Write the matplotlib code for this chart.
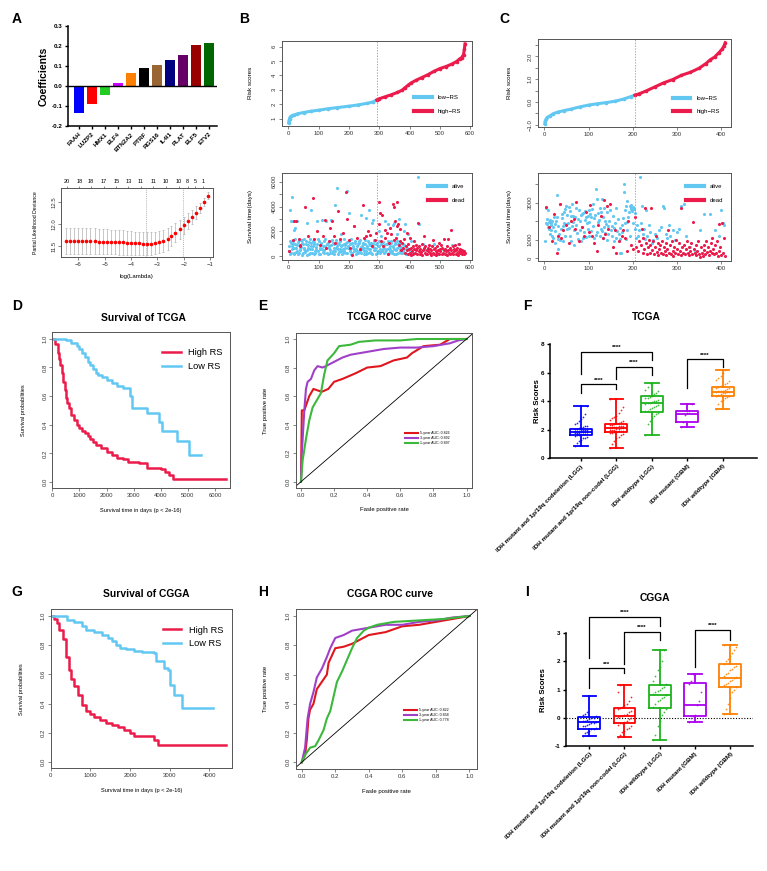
import matplotlib
matplotlib.use("Agg")
import matplotlib.pyplot as plt

plt.rcParams["font.family"] = ["Liberation Sans", "DejaVu Sans"]

# ---------------- data ----------------
genes = ["FAAH", "LUZP2", "HMX1", "ELF4", "BTN2A2", "PTRF", "RGS16", "IL4I1", "PLAT", "ELF5", "ETV2"]
coefs = [-0.137, -0.090, -0.045, 0.013, 0.063, 0.091, 0.107, 0.130, 0.157, 0.203, 0.215]
gene_colors = ["#0000FF", "#FF0000", "#22CC22", "#CC00FF", "#FF8000", "#000000",
               "#996633", "#000080", "#660066", "#990000", "#006600"]

log_lambda = [-6.46, -6.30, -6.15, -6.00, -5.84, -5.69, -5.54, -5.38, -5.23, -5.08, -4.92, -4.77,
              -4.62, -4.46, -4.31, -4.16, -4.00, -3.85, -3.70, -3.54, -3.39, -3.24, -3.08, -2.93,
              -2.78, -2.62, -2.47, -2.32, -2.16, -2.01, -1.86, -1.70, -1.55, -1.40, -1.24, -1.09]
deviance = [11.62, 11.62, 11.62, 11.62, 11.62, 11.61, 11.61, 11.61, 11.60, 11.60, 11.60, 11.59,
            11.59, 11.58, 11.58, 11.57, 11.57, 11.56, 11.56, 11.55, 11.55, 11.55, 11.57, 11.59,
            11.62, 11.66, 11.72, 11.80, 11.88, 11.97, 12.07, 12.16, 12.26, 12.37, 12.50, 12.64]
deviance_sd = [0.30, 0.30, 0.30, 0.30, 0.30, 0.30, 0.29, 0.29, 0.29, 0.29, 0.29, 0.28,
               0.28, 0.28, 0.28, 0.27, 0.27, 0.27, 0.27, 0.26, 0.26, 0.26, 0.26, 0.25,
               0.25, 0.24, 0.23, 0.22, 0.21, 0.20, 0.18, 0.16, 0.14, 0.12, 0.10, 0.08]
lambda_min, lambda_1se = -3.44, -2.05
nz_pos = [-6.43, -5.96, -5.52, -5.03, -4.56, -4.10, -3.64, -3.16, -2.68, -2.20, -1.86, -1.57, -1.27]
nz_count = ["20", "18", "18", "17", "15", "13", "11", "11", "10", "10", "8", "5", "1"]

# TCGA / CGGA risk score (sorted) and cut point
b_rank = [1, 2, 4, 6, 10, 15, 20, 30, 50, 75, 100, 130, 160, 200, 230, 260, 280, 292,
          300, 320, 340, 360, 375, 385, 395, 405, 420, 440, 460, 480, 500, 520, 540, 555, 565, 572, 578, 581, 583]
b_score = [0.70, 0.85, 1.00, 1.10, 1.18, 1.22, 1.25, 1.33, 1.42, 1.51, 1.58, 1.68, 1.76, 1.86, 1.95, 2.06, 2.16, 2.30,
           2.38, 2.52, 2.66, 2.82, 2.97, 3.15, 3.32, 3.48, 3.65, 3.85, 4.05, 4.28, 4.48, 4.62, 4.80, 4.97, 5.15, 5.25, 5.45, 5.85, 6.20]
b_cut = 292

c_rank = [1, 2, 4, 7, 12, 20, 30, 45, 60, 80, 100, 120, 140, 160, 180, 195, 205,
          215, 230, 250, 270, 290, 310, 330, 350, 365, 375, 385, 395, 402, 406, 409]
c_score = [-0.95, -0.85, -0.75, -0.68, -0.62, -0.52, -0.45, -0.38, -0.32, -0.22, -0.14, -0.08, -0.03, 0.03, 0.13, 0.23, 0.30,
           0.36, 0.48, 0.66, 0.84, 0.98, 1.17, 1.30, 1.48, 1.68, 1.85, 1.97, 2.17, 2.32, 2.45, 2.60]
c_cut = 205

# (rank, survival days)
b_alive = [
    (3, 450), (5, 3750), (6, 1200), (8, 2850), (9, 300), (11, 800), (12, 4750), (14, 1250), (15, 2800), (17, 200),
    (18, 2100), (20, 650), (22, 2300), (23, 1000), (26, 350), (27, 2850), (29, 900), (32, 150), (35, 1300), (38, 500),
    (41, 750), (44, 1100), (45, 1300), (47, 250), (50, 600), (53, 1400), (56, 400), (59, 950), (60, 2700), (62, 100),
    (65, 700), (68, 1150), (71, 300), (74, 850), (75, 3700), (77, 550), (80, 1250), (83, 200), (86, 1000), (89, 450),
    (92, 750), (95, 2850), (98, 1350), (101, 150), (104, 600), (107, 900), (110, 2900), (113, 350), (116, 1200), (119, 500),
    (122, 800), (125, 2850), (128, 250), (131, 1050), (134, 650), (137, 300), (140, 2900), (143, 1300), (146, 450), (149, 950),
    (152, 200), (155, 4100), (158, 700), (161, 1100), (162, 5500), (164, 550), (167, 350), (170, 1250), (173, 800), (175, 1800),
    (176, 150), (179, 600), (182, 1000), (185, 400), (188, 900), (191, 250), (194, 1150), (195, 5250), (197, 700), (200, 3500),
    (203, 500), (206, 1350), (209, 300), (212, 850), (215, 2400), (218, 600), (221, 1050), (224, 200), (227, 450), (230, 950),
    (233, 1200), (236, 350), (239, 750), (240, 3300), (242, 550), (245, 1000), (248, 150), (251, 650), (254, 1300), (255, 3100),
    (257, 400), (260, 850), (263, 250), (265, 3700), (266, 1100), (269, 600), (272, 300), (275, 2700), (278, 950), (280, 2900),
    (281, 500), (284, 1200), (287, 700), (290, 200), (293, 1050), (296, 450), (299, 800), (300, 2000), (302, 350), (305, 1600),
    (308, 1150), (311, 600), (314, 250), (317, 900), (320, 2800), (323, 500), (326, 1000), (329, 150), (330, 2600), (332, 700),
    (335, 400), (338, 1250), (341, 300), (344, 850), (345, 2500), (347, 550), (350, 2700), (353, 1100), (356, 200), (359, 650),
    (360, 1800), (362, 950), (365, 3000), (368, 450), (371, 750), (374, 300), (377, 1000), (380, 2000), (383, 550), (385, 2600),
    (388, 200), (392, 700), (395, 1800), (400, 400), (405, 1200), (412, 250), (420, 600), (428, 6400), (430, 2600), (436, 150),
    (445, 1000), (452, 500), (466, 300), (480, 1000), (495, 200), (510, 600), (525, 350), (540, 900), (555, 150), (560, 1000),
    (575, 400), (2, 800), (7, 150), (10, 1100), (13, 600), (16, 950), (19, 300), (21, 1400), (24, 700), (28, 400),
    (31, 1150), (34, 250), (37, 850), (40, 550), (43, 1300), (46, 100), (49, 1000), (52, 700), (55, 350), (58, 1200),
    (61, 500), (64, 900), (67, 200), (70, 1350), (73, 600), (76, 1050), (79, 300), (82, 800), (85, 1150), (88, 250),
    (91, 600), (94, 1000), (97, 450), (100, 1250), (103, 700), (106, 200), (109, 1100), (112, 550), (115, 850), (118, 300),
    (121, 1350), (124, 650), (127, 1000), (130, 150), (133, 800), (136, 1200), (139, 500), (142, 900), (145, 250), (148, 1100),
    (151, 650), (154, 400), (157, 1300), (160, 800), (163, 200), (166, 1000), (169, 550), (172, 1200), (175, 400), (178, 900),
    (181, 250), (184, 1350), (187, 650), (190, 1050), (193, 300), (196, 800), (199, 1200), (202, 450), (205, 950), (208, 150),
    (211, 1100), (214, 700), (217, 400), (220, 1250), (223, 600), (226, 850), (229, 250), (232, 1050), (235, 500), (238, 1300),
    (241, 300), (244, 800), (247, 1100), (250, 450), (253, 950), (256, 200), (259, 650), (262, 1200), (265, 550), (268, 900),
    (271, 350), (274, 1050), (277, 150), (280, 750), (283, 1300), (286, 500), (289, 1000), (292, 300), (295, 850), (298, 1200),
    (301, 600), (304, 250), (307, 950), (310, 450), (313, 1150), (316, 700), (319, 350), (322, 1000), (325, 600), (328, 1250),
    (331, 250), (334, 850), (337, 550), (340, 1100), (343, 400), (346, 750), (349, 200), (352, 950), (355, 500), (358, 1200),
    (361, 300), (364, 800), (367, 600), (370, 1100), (373, 250), (376, 700), (379, 450), (382, 900), (386, 300), (390, 600),
]
b_dead = [
    (2, 450), (15, 1300), (20, 2800), (25, 2850), (35, 1400), (38, 800), (40, 900), (55, 4000), (65, 1600), (80, 4700),
    (85, 1400), (95, 2000), (105, 900), (115, 1600), (120, 2900), (125, 700), (135, 1200), (138, 2300), (145, 2800), (150, 1600),
    (155, 1100), (165, 3600), (170, 1400), (180, 1900), (190, 5150), (192, 3000), (200, 1300), (205, 700), (210, 100), (215, 2400),
    (225, 1500), (235, 600), (245, 4100), (250, 1500), (255, 1600), (262, 2000), (270, 1700), (275, 800), (285, 1300), (290, 1900),
    (298, 4400), (300, 2600), (302, 3500), (305, 1200), (310, 3300), (313, 800), (318, 2100), (320, 1500), (325, 1900), (328, 200),
    (332, 1100), (336, 2300), (340, 1800), (345, 4200), (348, 1300), (350, 4000), (353, 2800), (356, 1500), (358, 4400), (360, 2400),
    (362, 2600), (365, 900), (368, 1200), (370, 2200), (372, 500), (375, 1100), (378, 700), (382, 1400), (385, 300), (388, 800),
    (390, 500), (392, 1900), (394, 200), (396, 1000), (398, 600), (400, 300), (402, 1500), (404, 700), (406, 100), (408, 400),
    (410, 800), (412, 200), (414, 600), (416, 1200), (418, 300), (420, 900), (422, 500), (424, 150), (426, 700), (428, 2700),
    (430, 400), (432, 800), (434, 200), (436, 600), (438, 350), (440, 1000), (442, 100), (444, 500), (446, 700), (448, 1600),
    (450, 300), (452, 800), (454, 200), (456, 500), (458, 150), (460, 700), (462, 400), (464, 900), (466, 250), (468, 600),
    (470, 100), (472, 500), (474, 800), (476, 300), (478, 1300), (480, 600), (482, 200), (484, 700), (486, 400), (488, 100),
    (490, 800), (492, 300), (494, 500), (496, 1100), (498, 200), (500, 600), (502, 400), (504, 900), (506, 150), (508, 700),
    (510, 300), (512, 500), (514, 1400), (516, 200), (518, 600), (520, 400), (522, 800), (524, 100), (526, 1400), (528, 500),
    (530, 300), (532, 700), (534, 200), (536, 2100), (538, 500), (540, 300), (542, 800), (544, 150), (546, 600), (548, 400),
    (550, 900), (552, 200), (554, 500), (556, 300), (558, 700), (560, 100), (562, 400), (564, 1000), (566, 250), (568, 600),
    (570, 350), (572, 150), (574, 500), (576, 300), (578, 400), (580, 200), (582, 300),
]
c_alive = [
    (1, 950), (3, 1900), (4, 2700), (5, 1850), (7, 2100), (8, 2600), (9, 1700), (10, 1600), (11, 1950), (12, 2050),
    (13, 1300), (14, 1800), (15, 1500), (16, 1900), (17, 2000), (18, 1200), (19, 1100), (20, 1700), (22, 2200), (23, 1850),
    (24, 1450), (25, 800), (26, 2000), (28, 2250), (29, 3400), (30, 1050), (31, 1750), (32, 500), (33, 1300), (35, 2900),
    (36, 1000), (38, 1600), (39, 2400), (40, 2150), (42, 1750), (43, 900), (44, 1900), (45, 2500), (46, 1200), (47, 2650),
    (48, 1850), (50, 2800), (51, 1550), (52, 2350), (53, 1900), (55, 1650), (56, 2750), (57, 1200), (58, 2550), (60, 2300),
    (61, 950), (62, 1750), (63, 2950), (64, 1950), (65, 2300), (67, 1500), (68, 700), (70, 2250), (71, 1800), (72, 2700),
    (73, 1350), (75, 2100), (76, 1050), (78, 2600), (80, 2000), (81, 1500), (82, 2350), (84, 900), (85, 1700), (86, 2400),
    (87, 2450), (88, 1100), (90, 1400), (91, 2050), (93, 2550), (94, 2200), (95, 1150), (96, 1900), (98, 2300), (99, 1600),
    (100, 2600), (101, 1200), (102, 1950), (104, 2400), (105, 2250), (106, 1450), (108, 2650), (110, 2900), (111, 1750), (112, 1100),
    (113, 2150), (115, 2350), (116, 1250), (117, 3750), (118, 1400), (120, 3200), (121, 2450), (122, 1950), (124, 2050), (125, 1200),
    (126, 2700), (127, 1600), (128, 2500), (130, 3200), (131, 1450), (132, 2250), (133, 1100), (135, 1700), (136, 2700), (137, 2000),
    (138, 1350), (140, 1850), (141, 2500), (142, 1000), (143, 1750), (145, 1300), (146, 2000), (148, 2600), (150, 1500), (152, 1750),
    (153, 1200), (155, 2300), (157, 1650), (158, 900), (160, 1900), (162, 1100), (163, 2700), (165, 1450), (166, 2100), (168, 1300),
    (170, 1650), (171, 1050), (172, 300), (173, 250), (175, 1800), (176, 1400), (178, 2150), (179, 4000), (180, 3600), (182, 1900),
    (183, 2600), (184, 1050), (185, 2800), (186, 3100), (187, 1500), (188, 1950), (190, 2250), (192, 2500), (193, 1200), (194, 2800),
    (195, 2650), (196, 2700), (197, 2850), (198, 2550), (199, 2700), (200, 2750), (201, 1900), (202, 2650), (204, 2450), (205, 1600),
    (208, 1100), (210, 1800), (212, 1200), (214, 1500), (216, 4400), (218, 1900), (220, 2800), (222, 1300), (225, 1600), (228, 1050),
    (230, 2600), (233, 1200), (236, 1800), (240, 1400), (243, 800), (246, 1000), (250, 1300), (255, 1100), (260, 1500), (264, 1700),
    (268, 2800), (270, 2700), (274, 1300), (278, 1100), (282, 1800), (285, 1200), (290, 1500), (295, 1000), (300, 1400), (305, 1600),
    (310, 2800), (315, 2900), (320, 1200), (330, 600), (340, 400), (352, 1500), (362, 2400), (375, 2400), (385, 1500), (395, 1200),
    (400, 2600), (403, 1900), (406, 1800),
]
c_dead = [
    (3, 2750), (10, 1700), (18, 900), (22, 2400), (28, 300), (30, 1200), (35, 2950), (38, 1100), (42, 1500), (48, 1800),
    (55, 800), (60, 2000), (66, 2100), (70, 1600), (72, 3050), (78, 900), (85, 1700), (90, 1200), (95, 2500), (100, 1400),
    (103, 2850), (108, 1200), (112, 800), (118, 400), (122, 1800), (128, 2300), (132, 1100), (135, 3150), (138, 1300), (142, 2800),
    (145, 1600), (148, 2900), (155, 600), (160, 1500), (163, 300), (168, 900), (175, 1200), (178, 1500), (182, 1100), (188, 400),
    (190, 2000), (195, 700), (200, 500), (205, 2200), (208, 600), (212, 400), (215, 900), (218, 700), (220, 1600), (222, 300),
    (224, 1100), (226, 500), (228, 2700), (230, 800), (232, 200), (234, 600), (236, 1000), (238, 300), (240, 700), (242, 2700),
    (244, 450), (246, 900), (248, 200), (250, 600), (252, 1200), (254, 350), (256, 800), (258, 150), (260, 500), (262, 700),
    (264, 300), (266, 900), (268, 200), (270, 600), (272, 400), (274, 800), (276, 150), (278, 500), (280, 1500), (282, 300),
    (284, 700), (286, 200), (288, 900), (290, 400), (292, 100), (294, 600), (296, 300), (298, 1000), (300, 500), (302, 200),
    (304, 800), (306, 400), (308, 150), (310, 2700), (312, 600), (314, 300), (316, 700), (318, 200), (320, 500), (322, 900),
    (324, 300), (326, 150), (328, 600), (330, 400), (332, 800), (334, 200), (336, 1950), (338, 500), (340, 300), (342, 700),
    (344, 150), (346, 400), (348, 900), (350, 200), (352, 50), (354, 600), (356, 300), (358, 100), (360, 700), (362, 450),
    (364, 200), (366, 900), (368, 350), (370, 600), (372, 150), (374, 400), (376, 800), (378, 250), (380, 1100), (382, 500),
    (384, 200), (386, 700), (388, 300), (390, 900), (392, 100), (394, 1850), (396, 400), (398, 600), (400, 150), (402, 1900),
    (404, 300), (406, 1100), (408, 100),
]

# Kaplan-Meier curves
d_high_t = [0, 100, 200, 250, 300, 350, 400, 450, 500, 550, 600, 700, 800, 900, 1000, 1100, 1200, 1300, 1400, 1500,
            1600, 1800, 2000, 2200, 2400, 2600, 2800, 3200, 3500, 4000, 4150, 4300, 4450, 6420]
d_high_s = [1.0, 0.96, 0.90, 0.86, 0.82, 0.76, 0.70, 0.64, 0.59, 0.55, 0.52, 0.47, 0.43, 0.40, 0.38, 0.36, 0.34, 0.32, 0.30, 0.28,
            0.26, 0.24, 0.21, 0.19, 0.17, 0.16, 0.14, 0.13, 0.10, 0.09, 0.07, 0.05, 0.02, 0.02]
d_low_t = [0, 300, 500, 700, 900, 1000, 1100, 1200, 1300, 1400, 1500, 1600, 1700, 1850, 2000, 2200, 2400, 2600,
           2850, 2950, 3500, 3950, 4050, 4600, 5050, 5480]
d_low_s = [1.0, 1.0, 0.99, 0.97, 0.95, 0.93, 0.90, 0.87, 0.84, 0.82, 0.79, 0.76, 0.75, 0.73, 0.71, 0.69, 0.67, 0.66,
           0.60, 0.52, 0.48, 0.42, 0.36, 0.29, 0.19, 0.19]
g_high_t = [0, 80, 150, 220, 300, 380, 450, 520, 600, 700, 800, 900, 1000, 1100, 1250, 1400, 1550, 1700, 1850, 2000,
            2100, 2500, 2600, 2700, 4420]
g_high_s = [1.0, 0.98, 0.95, 0.90, 0.84, 0.72, 0.63, 0.57, 0.52, 0.46, 0.39, 0.35, 0.33, 0.31, 0.29, 0.27, 0.25, 0.24, 0.22, 0.20,
            0.175, 0.175, 0.15, 0.115, 0.115]
g_low_t = [0, 200, 400, 600, 800, 900, 1100, 1300, 1450, 1550, 1650, 1750, 1900, 2100, 2300, 2600, 2650, 2850, 2950,
           3000, 3100, 3300, 4100]
g_low_s = [1.0, 1.0, 0.97, 0.96, 0.93, 0.90, 0.89, 0.87, 0.85, 0.83, 0.80, 0.78, 0.77, 0.76, 0.75, 0.745, 0.69, 0.64, 0.63,
           0.53, 0.46, 0.37, 0.37]

# ROC curves
e5_fpr = [0, 0.005, 0.02, 0.035, 0.05, 0.075, 0.10, 0.125, 0.165, 0.20, 0.25, 0.33, 0.40, 0.48, 0.56, 0.64, 0.67, 0.74, 0.84, 0.87, 0.90, 1.0]
e5_tpr = [0, 0.50, 0.50, 0.55, 0.60, 0.65, 0.64, 0.63, 0.65, 0.70, 0.72, 0.76, 0.80, 0.81, 0.85, 0.87, 0.90, 0.95, 0.96, 0.98, 1.0, 1.0]
e3_fpr = [0, 0.005, 0.01, 0.02, 0.03, 0.04, 0.06, 0.08, 0.10, 0.13, 0.15, 0.20, 0.25, 0.30, 0.40, 0.50, 0.60, 0.70, 0.80, 0.90, 0.95, 1.0]
e3_tpr = [0, 0.20, 0.30, 0.50, 0.65, 0.70, 0.72, 0.78, 0.81, 0.80, 0.81, 0.84, 0.87, 0.89, 0.91, 0.93, 0.94, 0.94, 0.95, 0.97, 0.99, 1.0]
e1_fpr = [0, 0.01, 0.03, 0.05, 0.07, 0.10, 0.12, 0.14, 0.16, 0.20, 0.23, 0.30, 0.35, 0.45, 0.60, 0.70, 1.0]
e1_tpr = [0, 0.15, 0.30, 0.43, 0.52, 0.58, 0.62, 0.75, 0.85, 0.90, 0.95, 0.96, 0.98, 0.99, 0.99, 1.0, 1.0]
e_auc = ["5-year AUC: 0.826", "3-year AUC: 0.892", "1-year AUC: 0.897"]

h5_fpr = [0, 0.02, 0.03, 0.04, 0.05, 0.07, 0.09, 0.12, 0.15, 0.16, 0.18, 0.20, 0.25, 0.30, 0.35, 0.40, 0.50, 0.60, 0.70, 0.80, 0.90, 1.0]
h5_tpr = [0, 0.05, 0.15, 0.30, 0.36, 0.40, 0.50, 0.55, 0.60, 0.68, 0.73, 0.78, 0.79, 0.81, 0.84, 0.87, 0.89, 0.93, 0.94, 0.96, 0.98, 1.0]
h3_fpr = [0, 0.02, 0.035, 0.05, 0.07, 0.09, 0.12, 0.15, 0.17, 0.20, 0.25, 0.30, 0.35, 0.40, 0.50, 0.60, 0.70, 0.80, 0.90, 1.0]
h3_tpr = [0, 0.10, 0.30, 0.40, 0.48, 0.58, 0.64, 0.72, 0.78, 0.85, 0.87, 0.90, 0.91, 0.92, 0.94, 0.94, 0.96, 0.97, 0.99, 1.0]
h1_fpr = [0, 0.02, 0.05, 0.08, 0.10, 0.13, 0.15, 0.17, 0.19, 0.21, 0.24, 0.27, 0.30, 0.33, 0.37, 0.40, 0.45, 0.55, 0.70, 0.85, 1.0]
h1_tpr = [0, 0.05, 0.10, 0.11, 0.15, 0.22, 0.30, 0.35, 0.45, 0.55, 0.62, 0.70, 0.78, 0.85, 0.90, 0.92, 0.94, 0.96, 0.97, 0.98, 1.0]
h_auc = ["5-year AUC: 0.822", "3-year AUC: 0.858", "1-year AUC: 0.778"]

# subtype box plots
subtypes = ["IDH mutant and 1p/19q codeletion (LGG)", "IDH mutant and 1p/19q non-codel (LGG)",
            "IDH wildtype (LGG)", "IDH mutant (GBM)", "IDH wildtype (GBM)"]
box_colors = ["#0000FF", "#FF0000", "#1DB31D", "#AA00EE", "#FF8000"]

f_med = [1.85, 2.10, 3.90, 3.10, 4.68]
f_q1 = [1.60, 1.85, 3.28, 2.52, 4.35]
f_q3 = [2.05, 2.42, 4.38, 3.30, 5.02]
f_lo = [0.85, 0.72, 1.65, 2.20, 3.48]
f_hi = [3.65, 4.18, 5.28, 3.82, 6.20]
f_points = [
    [0.85, 1.05, 1.2, 1.3, 1.4, 1.45, 1.5, 1.55, 1.6, 1.62, 1.65, 1.68, 1.7, 1.72, 1.75, 1.78, 1.8, 1.82, 1.84, 1.86, 1.88,
     1.9, 1.92, 1.94, 1.96, 1.98, 2.0, 2.02, 2.05, 2.08, 2.1, 2.15, 2.2, 2.25, 2.3, 2.4, 2.5, 2.6, 2.75, 2.9, 3.1, 3.65],
    [0.72, 1.0, 1.2, 1.4, 1.5, 1.6, 1.7, 1.75, 1.8, 1.85, 1.88, 1.9, 1.93, 1.95, 1.98, 2.0, 2.02, 2.05, 2.08, 2.1, 2.12,
     2.15, 2.18, 2.2, 2.23, 2.25, 2.28, 2.3, 2.33, 2.36, 2.4, 2.45, 2.5, 2.55, 2.6, 2.7, 2.8, 2.9, 3.0, 3.2, 3.4, 3.6, 4.18],
    [1.65, 2.4, 2.6, 2.8, 3.0, 3.1, 3.2, 3.3, 3.35, 3.45, 3.5, 3.6, 3.7, 3.75, 3.8, 3.85, 3.9, 3.95, 4.0, 4.05, 4.1,
     4.2, 4.25, 4.3, 4.4, 4.5, 4.6, 4.7, 4.8, 5.0, 5.28],
    [2.2, 2.55, 3.05, 3.2, 3.3, 3.82],
    [3.48, 3.8, 4.0, 4.1, 4.2, 4.3, 4.35, 4.4, 4.45, 4.5, 4.55, 4.6, 4.62, 4.65, 4.68, 4.7, 4.72, 4.75, 4.8, 4.85,
     4.9, 4.95, 5.0, 5.05, 5.1, 5.2, 5.3, 5.4, 5.5, 5.6, 5.8, 6.0, 6.2],
]
i_med = [-0.15, 0.05, 0.80, 0.45, 1.40]
i_q1 = [-0.38, -0.20, 0.35, 0.05, 1.10]
i_q3 = [0.02, 0.35, 1.15, 1.22, 1.92]
i_lo = [-0.65, -0.67, -0.80, -0.15, 0.12]
i_hi = [0.78, 1.18, 2.42, 1.55, 2.58]
i_points = [
    [-0.65, -0.55, -0.5, -0.45, -0.4, -0.38, -0.35, -0.3, -0.28, -0.25, -0.22, -0.2, -0.18, -0.15, -0.12, -0.1,
     -0.08, -0.05, -0.02, 0.0, 0.05, 0.1, 0.15, 0.2, 0.78],
    [-0.67, -0.6, -0.5, -0.45, -0.4, -0.35, -0.3, -0.25, -0.2, -0.18, -0.15, -0.1, -0.05, 0.0, 0.02, 0.05, 0.08,
     0.1, 0.15, 0.2, 0.25, 0.3, 0.35, 0.4, 0.45, 0.5, 0.6, 0.75, 0.9, 1.18],
    [-0.8, -0.6, -0.3, -0.1, 0.1, 0.2, 0.3, 0.4, 0.5, 0.6, 0.65, 0.7, 0.75, 0.8, 0.85, 0.9, 0.95, 1.0, 1.05,
     1.1, 1.2, 1.3, 1.5, 1.7, 1.8, 2.0, 2.42],
    [-0.15, 0.0, 0.05, 0.1, 0.45, 0.6, 0.9, 1.2, 1.3, 1.55],
    [0.12, 0.3, 0.5, 0.7, 0.9, 1.0, 1.1, 1.15, 1.2, 1.25, 1.3, 1.35, 1.4, 1.45, 1.5, 1.55, 1.6, 1.7, 1.75, 1.8,
     1.85, 1.9, 2.0, 2.1, 2.2, 2.3, 2.4, 2.5, 2.58],
]
# significance comparisons: (group a, group b, label)
f_sig = [(0, 2, "****"), (1, 2, "****"), (0, 1, "****"), (3, 4, "****")]
i_sig = [(0, 2, "****"), (1, 2, "****"), (0, 1, "***"), (3, 4, "****")]

SKY = "#62C8F2"
CRIMSON = "#EB1C4B"
ROC_RED, ROC_PURPLE, ROC_GREEN = "#E0161E", "#A040C8", "#3CB83C"

# ---------------- layout helpers ----------------
W, H = 767, 871
fig = plt.figure(figsize=(W / 100, H / 100), dpi=100)


def px_axes(x0, y0, x1, y1):
    return fig.add_axes([x0 / W, 1 - y1 / H, (x1 - x0) / W, (y1 - y0) / H])


def px_text(x, y, s, **kw):
    fig.text(x / W, 1 - y / H, s, **kw)


def r_style(ax):
    for sp in ax.spines.values():
        sp.set_color("#555555")
        sp.set_linewidth(0.7)
    ax.tick_params(labelsize=4.3, length=2, width=0.5, color="#555555", labelcolor="#333333", pad=1.5)
    ax.tick_params(axis="y", labelrotation=90)
    for lab in ax.get_yticklabels():
        lab.set_va("center")


def prism_style(ax):
    for side in ("top", "right"):
        ax.spines[side].set_visible(False)
    for side in ("left", "bottom"):
        ax.spines[side].set_linewidth(1.1)
    ax.tick_params(length=2.5, width=1.0, labelsize=4.5, pad=1.5)
    for lab in ax.get_yticklabels():
        lab.set_fontweight("bold")


for letter, x, y in [("A", 17, 19), ("B", 244, 19), ("C", 504, 19), ("D", 17, 306), ("E", 263, 306),
                     ("F", 527, 306), ("G", 17, 592), ("H", 263, 592), ("I", 527, 592)]:
    px_text(x, y, letter, fontsize=10, fontweight="bold", ha="center", va="center")

# ---------------- A: coefficients ----------------
ax = px_axes(68, 26, 217, 126)
pos = list(range(len(genes)))
ax.bar(pos, coefs, width=0.78, color=gene_colors)
ax.axhline(0, color="black", lw=1.0)
ax.set_xlim(-0.82, len(genes) - 0.38)
ax.set_ylim(-0.2, 0.3)
ax.set_yticks([-0.2, -0.1, 0.0, 0.1, 0.2, 0.3])
ax.set_yticklabels(["-0.2", "-0.1", "0.0", "0.1", "0.2", "0.3"])
ax.set_xticks(pos)
ax.set_xticklabels(genes, rotation=45, ha="right", va="top", rotation_mode="anchor", fontsize=4.5, fontweight="bold")
prism_style(ax)
ax.set_ylabel("Coefficients", fontsize=7.5, fontweight="bold", labelpad=2)

# ---------------- A: lasso ----------------
ax = px_axes(61, 188, 213, 257)
ax.errorbar(log_lambda, deviance, yerr=deviance_sd, fmt="o", ms=1.6, color="#FF0000",
            ecolor="#B0B0B0", elinewidth=0.5, capsize=1.0, capthick=0.5)
ax.axvline(lambda_min, color="#999999", ls=(0, (1.5, 1.5)), lw=0.5)
ax.axvline(lambda_1se, color="#999999", ls=(0, (1.5, 1.5)), lw=0.5)
ax.set_xlim(-6.65, -0.9)
ax.set_ylim(11.25, 12.82)
ax.set_xticks([-6, -5, -4, -3, -2, -1])
ax.set_xticklabels(["−6", "−5", "−4", "−3", "−2", "−1"])
ax.set_yticks([11.5, 12.0, 12.5])
ax.set_yticklabels(["11.5", "12.0", "12.5"])
r_style(ax)
ax.set_xlabel("log(Lambda)", fontsize=4.3, labelpad=5)
ax.set_ylabel("Partial Likelihood Deviance", fontsize=3.7)
ax.yaxis.set_label_coords(-0.149, 0.5)
top = ax.twiny()
top.set_xlim(ax.get_xlim())
top.set_xticks(nz_pos)
top.set_xticklabels(nz_count)
top.tick_params(labelsize=4, length=1.5, width=0.5, color="#555555", pad=1.5)
for sp in top.spines.values():
    sp.set_visible(False)


# ---------------- B / C: risk scores and survival status ----------------
def risk_curve(ax, rank, score, cut, xlim, ylim, xticks, yticks, ylabels, ylab_x):
    lr = [r for r in rank if r <= cut]
    lsc = [s for r, s in zip(rank, score) if r <= cut]
    hr = [r for r in rank if r >= cut]
    hsc = [s for r, s in zip(rank, score) if r >= cut]
    ax.plot(lr, lsc, color=SKY, lw=2.2, marker="o", ms=1.6, label="low−RS")
    ax.plot(hr, hsc, color=CRIMSON, lw=2.2, marker="o", ms=1.6, label="high−RS")
    ax.axvline(cut, color="#888888", ls=(0, (2, 2)), lw=0.5)
    ax.set_xlim(*xlim)
    ax.set_ylim(*ylim)
    ax.set_xticks(xticks)
    ax.set_yticks(yticks)
    ax.set_yticklabels(ylabels)
    r_style(ax)
    ax.set_ylabel("Risk scores", fontsize=4.5)
    ax.yaxis.set_label_coords(ylab_x, 0.5)
    leg = ax.legend(loc="lower right", bbox_to_anchor=(0.97, 0.08), frameon=False, fontsize=4.3,
                    handlelength=3.0, labelspacing=1.4, handletextpad=1.0)
    for ln in leg.get_lines():
        ln.set_linewidth(3)
        ln.set_marker("")


def status_scatter(ax, alive, dead, cut, xlim, ylim, xticks, yticks, ylabels, ylab_x):
    ax.scatter(*zip(*alive), s=5, color=SKY, linewidths=0)
    ax.scatter(*zip(*dead), s=5, color=CRIMSON, linewidths=0)
    ax.plot([], [], color=SKY, lw=3, label="alive")
    ax.plot([], [], color=CRIMSON, lw=3, label="dead")
    ax.axvline(cut, color="#888888", ls=(0, (2, 2)), lw=0.5)
    ax.set_xlim(*xlim)
    ax.set_ylim(*ylim)
    ax.set_xticks(xticks)
    ax.set_yticks(yticks)
    ax.set_yticklabels(ylabels)
    r_style(ax)
    ax.set_ylabel("Survival time(days)", fontsize=4.5)
    ax.yaxis.set_label_coords(ylab_x, 0.5)
    ax.legend(loc="upper right", bbox_to_anchor=(0.99, 0.93), frameon=False, fontsize=4.3,
              handlelength=3.0, labelspacing=1.4, handletextpad=1.0)


ax = px_axes(281.7, 40.7, 472.3, 126)
risk_curve(ax, b_rank, b_score, b_cut, (-22, 607), (0.48, 6.42), range(0, 601, 100),
           [1, 2, 3, 4, 5, 6], ["1", "2", "3", "4", "5", "6"], -0.15)

ax = px_axes(281.7, 172.7, 472.3, 260)
status_scatter(ax, b_alive, b_dead, b_cut, (-22, 607), (-300, 6720), range(0, 601, 100),
               [0, 1000, 2000, 3000, 4000, 5000, 6000], ["0", "", "2000", "", "4000", "", "6000"], -0.15)

ax = px_axes(537.7, 39.3, 731, 126.7)
risk_curve(ax, c_rank, c_score, c_cut, (-15, 422), (-1.09, 2.75), range(0, 401, 100),
           [-1.0, -0.5, 0.0, 0.5, 1.0, 1.5, 2.0, 2.5], ["−1.0", "", "0.0", "", "1.0", "", "2.0", ""], -0.135)

ax = px_axes(537.7, 172.7, 731, 260.7)
status_scatter(ax, c_alive, c_dead, c_cut, (-15, 422), (-140, 4620), range(0, 401, 100),
               [0, 1000, 2000, 3000, 4000], ["0", "1000", "", "3000", ""], -0.135)


# ---------------- D / G: Kaplan-Meier ----------------
def km_panel(ax, ht, hs, lt, lsv, xmax, xticks, title, tx, ty):
    ax.step(ht, hs, where="post", color=CRIMSON, lw=1.8, label="High RS")
    ax.step(lt, lsv, where="post", color=SKY, lw=1.8, label="Low RS")
    ax.set_xlim(0, xmax)
    ax.set_ylim(-0.043, 1.045)
    ax.set_xticks(xticks)
    ax.set_yticks([0, 0.2, 0.4, 0.6, 0.8, 1.0])
    ax.set_yticklabels(["0.0", "0.2", "0.4", "0.6", "0.8", "1.0"])
    r_style(ax)
    ax.set_xlabel("Survival time in days (p < 2e-16)", fontsize=4.1, labelpad=7)
    ax.set_ylabel("Survival probabilities", fontsize=4.1)
    ax.yaxis.set_label_coords(-0.148, 0.5)
    ax.legend(loc="upper left", bbox_to_anchor=(0.57, 0.95), frameon=False, fontsize=6.7,
              handlelength=2.0, labelspacing=0.5, handletextpad=0.8)
    px_text(tx, ty, title, fontsize=7.4, fontweight="bold", ha="center", va="center")


ax = px_axes(52.3, 332.3, 230, 488.3)
km_panel(ax, d_high_t, d_high_s, d_low_t, d_low_s, 6553, range(0, 6001, 1000), "Survival of TCGA", 143, 318)
ax = px_axes(50.7, 609.3, 232.3, 768.3)
km_panel(ax, g_high_t, g_high_s, g_low_t, g_low_s, 4580, range(0, 4001, 1000), "Survival of CGGA", 146, 594)


# ---------------- E / H: ROC ----------------
def roc_panel(ax, curves, labels, xlim, ylim, leg_anchor, title, tx, ty):
    for (fpr, tpr), col, lab in zip(curves, (ROC_RED, ROC_PURPLE, ROC_GREEN), labels):
        ax.plot(fpr, tpr, color=col, lw=1.5, label=lab)
    ax.axline((0, 0), slope=1, color="black", lw=0.6)
    ax.set_xlim(*xlim)
    ax.set_ylim(*ylim)
    ticks = [0, 0.2, 0.4, 0.6, 0.8, 1.0]
    tl = ["0.0", "0.2", "0.4", "0.6", "0.8", "1.0"]
    ax.set_xticks(ticks)
    ax.set_xticklabels(tl)
    ax.set_yticks(ticks)
    ax.set_yticklabels(tl)
    r_style(ax)
    ax.set_xlabel("Fasle positive rate", fontsize=4.3, labelpad=7)
    ax.set_ylabel("True positive rate", fontsize=4.3)
    ax.yaxis.set_label_coords(-0.155, 0.5)
    ax.legend(loc="center left", bbox_to_anchor=leg_anchor, frameon=False, fontsize=2.6,
              handlelength=3.5, labelspacing=0.25, handletextpad=0.6)
    px_text(tx, ty, title, fontsize=7.4, fontweight="bold", ha="center", va="center")


ax = px_axes(295.7, 333.3, 472.3, 487.7)
roc_panel(ax, [(e5_fpr, e5_tpr), (e3_fpr, e3_tpr), (e1_fpr, e1_tpr)], e_auc,
          (-0.032, 1.035), (-0.042, 1.04), (0.6, 0.32), "TCGA ROC curve", 389, 317)
ax = px_axes(295.7, 609.3, 477.3, 769)
roc_panel(ax, [(h5_fpr, h5_tpr), (h3_fpr, h3_tpr), (h1_fpr, h1_tpr)], h_auc,
          (-0.036, 1.047), (-0.046, 1.046), (0.58, 0.337), "CGGA ROC curve", 390, 594)


# ---------------- F / I: subtype box plots ----------------
def box_panel(ax, med, q1, q3, lo, hi, points, sig, brackets, ylim, yticks, xlim, ylabel_x, zero_line):
    stats = [dict(med=m, q1=a, q3=b, whislo=l, whishi=h) for m, a, b, l, h in zip(med, q1, q3, lo, hi)]
    for k, (st, col) in enumerate(zip(stats, box_colors)):
        props = dict(color=col, linewidth=1.3)
        ax.bxp([st], positions=[k], widths=0.62, capwidths=0.38, showfliers=False,
               boxprops=props, medianprops=props, whiskerprops=props, capprops=props)
        vals = points[k]
        offs = [((j % 7) - 3) * 0.06 for j in range(len(vals))]
        ax.scatter([k + o for o in offs], vals, s=1.6, color=col, linewidths=0, alpha=0.85, zorder=3)
    if zero_line:
        ax.axhline(0, color="black", lw=0.8, ls=(0, (1, 1.5)), zorder=1)
    ax.set_xlim(*xlim)
    ax.set_ylim(*ylim)
    ax.set_yticks(yticks)
    ax.set_yticklabels([str(t) for t in yticks])
    ax.set_xticks(range(len(subtypes)))
    ax.set_xticklabels(subtypes, rotation=45, ha="right", va="top", rotation_mode="anchor",
                       fontsize=5.5, fontweight="bold")
    prism_style(ax)
    ax.set_ylabel("Risk Scores", fontsize=5.6, fontweight="bold")
    ax.yaxis.set_label_coords(ylabel_x, 0.5)
    span = ylim[1] - ylim[0]
    for (a, b, lab), (y, yl, yr) in zip(sig, brackets):
        ax.plot([a, a, b, b], [yl, y, y, yr], color="black", lw=0.9, clip_on=False)
        ax.text((a + b) / 2, y + span * 0.015, lab, ha="center", va="bottom", fontsize=4.5,
                fontweight="bold", clip_on=False)


# bracket geometry: (bar height, left leg end, right leg end)
ax = px_axes(550, 344.3, 756.7, 458.3)
box_panel(ax, f_med, f_q1, f_q3, f_lo, f_hi, f_points, f_sig,
          [(7.49, 5.95, 6.9), (6.43, 5.55, 5.85), (5.19, 4.56, 4.85), (6.95, 4.9, 6.43)],
          (0, 8), [0, 2, 4, 6, 8], (-0.876, 4.96), -0.045, False)
px_text(646.7, 317.3, "TCGA", fontsize=7.4, fontweight="bold", ha="center", va="center")

ax = px_axes(565.7, 633.3, 753, 746)
box_panel(ax, i_med, i_q1, i_q3, i_lo, i_hi, i_points, i_sig,
          [(3.59, 2.11, 3.26), (3.06, 1.91, 2.76), (1.76, 1.05, 1.58), (3.12, 1.79, 2.76)],
          (-1, 3), [-1, 0, 1, 2, 3], (-0.67, 4.65), -0.1, True)
px_text(655, 598.3, "CGGA", fontsize=7.4, fontweight="bold", ha="center", va="center")

fig.savefig("out.png", dpi=100)
